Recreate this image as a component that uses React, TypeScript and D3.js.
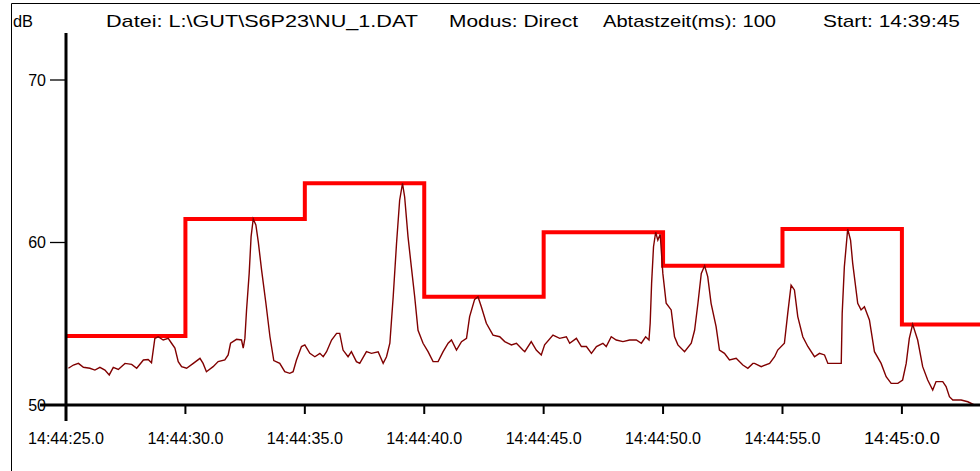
import React from 'react';
import { scaleLinear, line, curveStepAfter, curveLinear } from 'd3';

const width = 980;
const height = 471;

// seconds after 14:44:25.0
const times = [
  0.10, 0.31, 0.52, 0.73, 1.00, 1.21, 1.42, 1.63, 1.81, 1.98, 2.19, 2.47, 2.75, 2.96, 3.24, 3.44, 3.58, 3.72, 3.86, 4.07,
  4.28, 4.42, 4.56, 4.70, 4.84, 5.05, 5.33, 5.61, 5.74, 5.88, 6.16, 6.37, 6.65, 6.79, 6.89, 7.14, 7.35, 7.42, 7.49, 7.56,
  7.67, 7.75, 7.84, 7.95, 8.05, 8.19, 8.37, 8.54, 8.70, 8.95, 9.16, 9.37, 9.51, 9.65, 9.86, 10.00, 10.21, 10.42, 10.63, 10.77,
  10.91, 11.12, 11.33, 11.46, 11.60, 11.81, 11.95, 12.16, 12.30, 12.58, 12.79, 13.07, 13.28, 13.42, 13.56, 13.70, 13.84, 13.97, 14.09, 14.18,
  14.32, 14.46, 14.60, 14.74, 14.95, 15.16, 15.37, 15.58, 15.79, 16.00, 16.14, 16.35, 16.56, 16.77, 16.90, 17.11, 17.25, 17.39, 17.60, 17.88,
  18.16, 18.37, 18.65, 18.86, 19.13, 19.21, 19.48, 19.69, 19.90, 20.04, 20.39, 20.67, 20.95, 21.09, 21.37, 21.58, 21.79, 22.00, 22.21, 22.48,
  22.62, 22.83, 23.04, 23.32, 23.60, 23.88, 24.09, 24.27, 24.41, 24.46, 24.52, 24.60, 24.69, 24.78, 24.88, 24.99, 25.13, 25.34, 25.48, 25.62,
  25.90, 26.18, 26.32, 26.46, 26.60, 26.74, 26.87, 27.01, 27.22, 27.36, 27.57, 27.78, 28.06, 28.34, 28.55, 28.76, 28.83, 29.11, 29.46, 29.67,
  29.80, 30.08, 30.22, 30.36, 30.50, 30.64, 30.85, 31.06, 31.34, 31.55, 31.76, 31.90, 32.46, 32.50, 32.59, 32.73, 32.85, 32.94, 33.15, 33.29,
  33.43, 33.64, 33.85, 34.13, 34.34, 34.55, 34.83, 35.03, 35.18, 35.31, 35.45, 35.66, 35.87, 36.08, 36.29, 36.43, 36.71, 36.85, 36.99, 37.13,
  37.48, 37.76, 38.03, 38.27,
];

const levels = [
  52.26, 52.46, 52.56, 52.32, 52.26, 52.15, 52.32, 52.15, 51.85, 52.32, 52.19, 52.56, 52.50, 52.26, 52.77, 52.80, 52.60, 54.10, 54.20, 54.00,
  54.10, 53.80, 53.50, 52.67, 52.36, 52.26, 52.56, 52.87, 52.56, 52.05, 52.36, 52.67, 52.77, 53.08, 53.80, 54.04, 54.00, 53.50, 54.10, 55.85,
  58.10, 60.36, 61.45, 61.08, 60.05, 58.30, 56.26, 54.20, 52.73, 52.56, 52.05, 51.95, 52.05, 52.77, 53.60, 53.70, 53.18, 52.97, 53.18, 52.97,
  53.28, 54.00, 54.41, 54.41, 53.38, 52.97, 53.28, 52.67, 52.56, 53.28, 53.18, 53.28, 52.56, 52.97, 53.80, 56.66, 59.95, 62.60, 63.64, 62.80,
  60.36, 58.50, 56.66, 54.60, 53.80, 53.28, 52.67, 52.67, 53.28, 53.80, 54.00, 53.38, 53.90, 54.10, 55.44, 56.50, 56.66, 56.05, 55.03, 54.30,
  54.20, 53.90, 53.70, 53.80, 53.38, 53.28, 53.90, 53.38, 53.08, 53.70, 54.30, 54.10, 54.20, 53.80, 54.10, 53.60, 53.60, 53.18, 53.60, 53.80,
  53.60, 54.20, 54.00, 53.90, 54.00, 54.00, 53.80, 54.20, 54.00, 55.03, 57.50, 59.74, 60.63, 60.15, 60.50, 58.10, 56.26, 55.85, 54.20, 53.70,
  53.28, 53.80, 54.60, 56.26, 58.10, 58.57, 57.90, 56.26, 54.82, 53.38, 53.18, 52.77, 52.87, 52.46, 52.26, 52.56, 52.56, 52.36, 52.56, 52.97,
  53.38, 53.80, 55.64, 57.38, 57.08, 55.44, 54.20, 53.60, 52.97, 53.18, 53.08, 52.56, 52.56, 55.64, 58.50, 60.83, 60.15, 58.72, 56.26, 55.85,
  56.05, 55.23, 53.28, 52.56, 51.74, 51.33, 51.33, 51.54, 52.56, 54.10, 54.96, 54.00, 52.36, 51.54, 50.92, 51.44, 51.44, 51.13, 50.51, 50.31,
  50.31, 50.20, 50.00, 50.00,
];

// 5 s maximum levels
const blockStarts = [0, 5, 10, 15, 20, 25, 30, 35, 38.27];
const blockLevels = [54.25, 61.45, 63.64, 56.66, 60.63, 58.57, 60.83, 54.96, 54.96];

const xTickValues = [0, 5, 10, 15, 20, 25, 30, 35];
const xTickLabels = ['14:44:25.0', '14:44:30.0', '14:44:35.0', '14:44:40.0', '14:44:45.0', '14:44:50.0', '14:44:55.0', '14:45:0.0'];
const yTickValues = [50, 60, 70];

const header = [
  { text: 'dB', x: 13, w: 20 },
  { text: 'Datei: L:\\GUT\\S6P23\\NU_1.DAT', x: 106, w: 312 },
  { text: 'Modus: Direct', x: 449, w: 129 },
  { text: 'Abtastzeit(ms): 100', x: 603, w: 173 },
  { text: 'Start: 14:39:45', x: 823, w: 137 },
];

const x = scaleLinear().domain([0, 38.27]).range([66, 980]);
const y = scaleLinear().domain([50, 70]).range([405, 80]);

const traceLine = line<number>()
  .x((_, i) => x(times[i]))
  .y(d => y(d))
  .curve(curveLinear);

const blockLine = line<number>()
  .x((_, i) => x(blockStarts[i]))
  .y(d => y(d))
  .curve(curveStepAfter);

const font = '"Liberation Sans", Arial, sans-serif';

export default function App() {
  return (
    <svg width={width} height={height} style={{ position: 'absolute', left: 0, top: 0, background: '#fff' }}>
      <line x1={11.5} x2={980} y1={3.5} y2={3.5} stroke='black' />
      <line x1={11.5} x2={11.5} y1={3.5} y2={471} stroke='black' />
      {header.map(h => (
        <text key={h.text} x={h.x} y={27} fontFamily={font} fontSize={17}
          textLength={h.w} lengthAdjust='spacingAndGlyphs'>{h.text}</text>
      ))}

      <path d={blockLine(blockLevels) as string} fill='none' stroke='#ff0000' strokeWidth={4} />
      <path d={traceLine(levels) as string} fill='none' stroke='#800000' strokeWidth={1.4} />

      <line x1={66} x2={66} y1={33} y2={421} stroke='black' strokeWidth={3} />
      <line x1={40} x2={980} y1={405} y2={405} stroke='black' strokeWidth={3} />
      {yTickValues.map(v => (
        <g key={v}>
          <line x1={50} x2={66} y1={y(v)} y2={y(v)} stroke='black' strokeWidth={1.3} />
          <text x={46} y={y(v)} dy='0.35em' textAnchor='end' fontFamily={font} fontSize={16}>{v}</text>
        </g>
      ))}
      {xTickValues.map((v, i) => (
        <g key={v}>
          <line x1={x(v)} x2={x(v)} y1={405} y2={414} stroke='black' strokeWidth={2} />
          <text x={x(v)} y={438} dy='0.35em' textAnchor='middle' fontFamily={font} fontSize={16}
            textLength={76} lengthAdjust='spacingAndGlyphs'>{xTickLabels[i]}</text>
        </g>
      ))}
    </svg>
  );
}
